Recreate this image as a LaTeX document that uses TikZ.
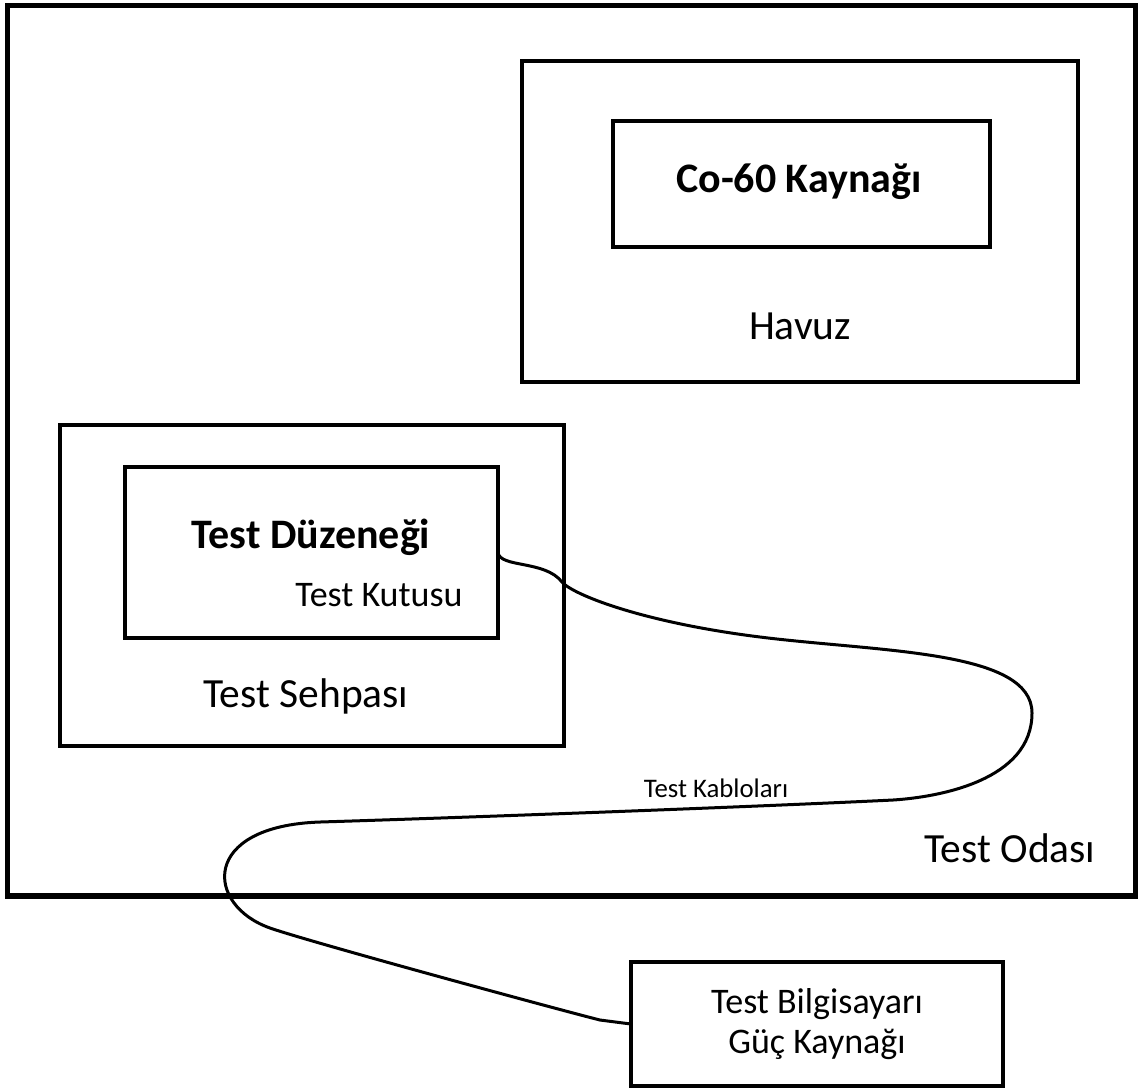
\documentclass[tikz,border=0pt]{standalone}
\usepackage{fontspec}
\setmainfont{Carlito}
\usepackage{tikz}

\begin{document}
\begin{tikzpicture}[x=0.5pt,y=-0.5pt,line width=2.3pt,
  box/.style={draw,inner sep=0pt,outer sep=0pt},
  big/.style={anchor=base,font=\fontsize{20.75}{24}\selectfont},
  bigb/.style={anchor=base,font=\fontsize{21}{24}\selectfont\bfseries},
  mid/.style={anchor=base,font=\fontsize{18}{20}\selectfont},
  cable/.style={line width=1.5pt}]
\useasboundingbox (0,0) rectangle (1140,1089);

\node[box,line width=2.7pt,minimum width=564pt,minimum height=445.25pt] (R) at (571.5,450.75) {};
\node[box,minimum width=278pt,minimum height=160.5pt] (H) at (800,221.5) {};
\node[box,minimum width=188.5pt,minimum height=63pt] (K) at (801.5,184) {};
\node[box,minimum width=252pt,minimum height=160.5pt] (S) at (312,585.5) {};
\node[box,minimum width=186.5pt,minimum height=85.5pt] (D) at (311.5,552.5) {};
\node[box,minimum width=186pt,minimum height=62pt,align=center,
  font=\fontsize{18}{20}\selectfont] (P) at (817,1024) {Test Bilgisayarı\\Güç Kaynağı};

% labels
\node[bigb] (Kl) at (799,192) {Co-60 Kaynağı};
\node[big] (Hl) at (800,339) {Havuz};
\node[bigb] (Dl) at (311,548) {Test Düzeneği};
\node[mid] (Tk) at (379,606) {Test Kutusu};
\node[big] (Sl) at (306,707) {Test Sehpası};
\node[anchor=base,font=\fontsize{13.4}{15}\selectfont] (C) at (716,797) {Test Kabloları};
\node[big] (Rl) at (1010,862) {Test Odası};

% cable
\draw[cable] (D.east) .. controls (500,568) and (545,560) .. (562,582)
  .. controls (572,594) and (640,622) .. (760,637)
  .. controls (880,652) and (1032,650) .. (1032,713)
  .. controls (1032,780) and (940,797) .. (893,800)
  .. controls (750,807) and (450,818) .. (320,822)
  .. controls (200,826) and (205,905) .. (270,928)
  .. controls (310,942) and (560,1010) .. (600,1020)
  -- (P.west);
\end{tikzpicture}
\end{document}
